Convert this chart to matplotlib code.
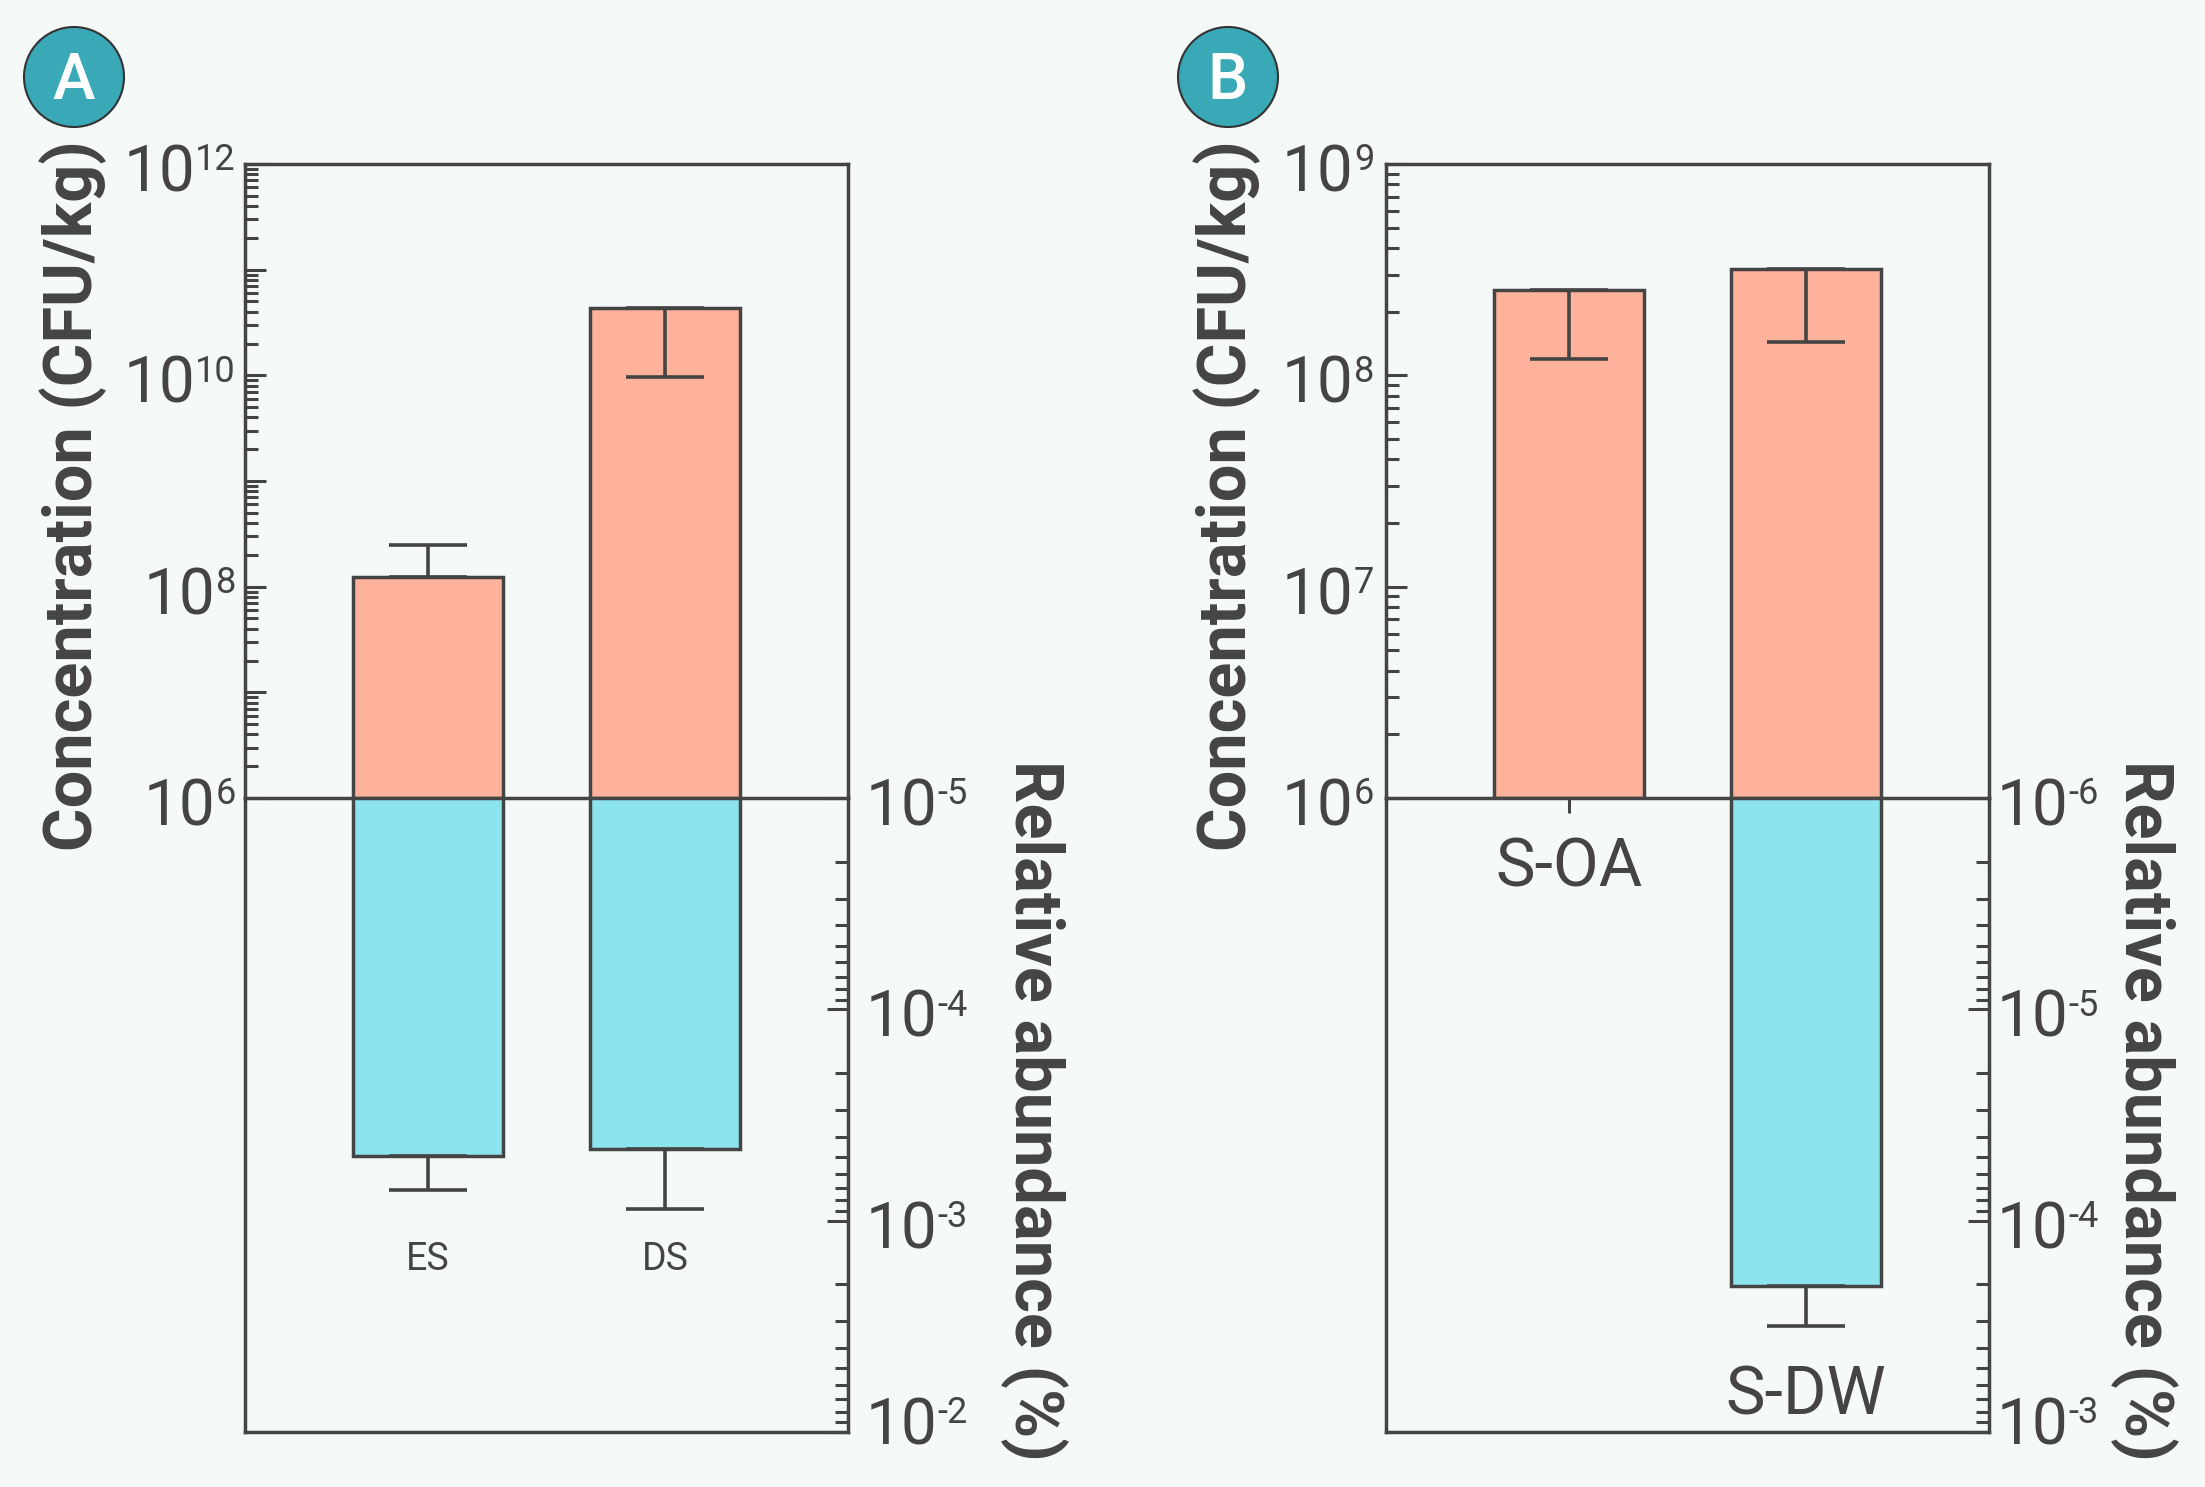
import matplotlib
matplotlib.use("Agg")
import matplotlib.pyplot as plt
import matplotlib.transforms as mtransforms
from matplotlib.patches import Ellipse
from matplotlib.ticker import LogLocator, NullFormatter
import numpy as np

# ---------------- data ----------------
cats_a = ["ES", "DS"]
conc_a = [1.24e8, 4.3e10]            # CFU/kg
conc_a_err_end = [2.48e8, 9.7e9]     # end point of the error bar
rel_a = [4.93e-4, 4.58e-4]           # relative abundance (%)
rel_a_err_end = [7.16e-4, 8.79e-4]

cats_b = ["S-OA", "S-DW"]
conc_b = [2.53e8, 3.2e8]
conc_b_err_end = [1.19e8, 1.44e8]
rel_b = [None, 2.03e-4]
rel_b_err_end = [None, 3.15e-4]

conc_ticks_a = [1e6, 1e8, 1e10, 1e12]
conc_tick_exps_a = ["6", "8", "10", "12"]
rel_ticks_a = [1e-5, 1e-4, 1e-3, 1e-2]
rel_tick_exps_a = ["-5", "-4", "-3", "-2"]
conc_ticks_b = [1e6, 1e7, 1e8, 1e9]
conc_tick_exps_b = ["6", "7", "8", "9"]
rel_ticks_b = [1e-6, 1e-5, 1e-4, 1e-3]
rel_tick_exps_b = ["-6", "-5", "-4", "-3"]

# ---------------- style ----------------
W, H = 2205, 1487
BG = "#f5f9f8"
EC = "#444444"
SALMON = "#ffb29b"
CYAN = "#8ce4ee"
TEAL = "#3aa9b7"
LW = 2.5
FONT = "Roboto"
plt.rcParams["font.family"] = [FONT, "DejaVu Sans"]

fig = plt.figure(figsize=(W / 100, H / 100), dpi=100, facecolor=BG)


def fx(px):
    return px / W


def fy(py):
    return 1 - py / H


def make_axes(left_px):
    top = fig.add_axes([fx(left_px), fy(798), 603 / W, 634 / H])
    bot = fig.add_axes([fx(left_px), fy(1432), 603 / W, 634 / H])
    for a in (top, bot):
        a.set_facecolor("none")
        a.set_xlim(-0.772, 1.772)
        for s in a.spines.values():
            s.set_color(EC)
            s.set_linewidth(LW)
    bot.spines["top"].set_visible(False)
    return top, bot


def yerr_of(val, end):
    if end >= val:
        return [[0], [end - val]]
    return [[val - end], [0]]


def style_log_axis(a, side):
    a.set_yscale("log")
    a.yaxis.set_major_locator(LogLocator(base=10, numticks=100))
    a.yaxis.set_minor_locator(LogLocator(base=10, subs=np.arange(2, 10), numticks=100))
    a.yaxis.set_minor_formatter(NullFormatter())
    left = side == "left"
    a.tick_params(axis="y", which="major", direction="in", length=15, width=2.2,
                  color=EC, left=left, right=not left, labelleft=False, labelright=False)
    a.tick_params(axis="y", which="minor", direction="in", length=9.4, width=2.2,
                  color=EC, left=left, right=not left, labelleft=False, labelright=False)


def tick_label(a, val, exp, side, pad_px, dy_px=5):
    trans = mtransforms.blended_transform_factory(a.transAxes, a.transData)
    top_pt = (24 + 2.6 - dy_px) * 0.72
    kw = dict(color=EC, fontweight="normal", textcoords="offset points", va="top",
              annotation_clip=False)
    if side == "left":
        e = a.annotate(exp, xy=(0, val), xycoords=trans, xytext=(-pad_px * 0.72, top_pt),
                       ha="right", fontsize=26, **kw)
        a.annotate("10", xy=(0, 1), xycoords=e, xytext=(0, 0), ha="right", fontsize=46, **kw)
    else:
        b = a.annotate("10", xy=(1, val), xycoords=trans, xytext=(pad_px * 0.72, top_pt),
                       ha="left", fontsize=46, **kw)
        a.annotate(exp, xy=(1, 1), xycoords=b, xytext=(0, 0), ha="left", fontsize=26, **kw)


def draw_panel(left_px, cats, conc, conc_end, rel, rel_end, conc_lim, rel_lim,
               cticks, cexps, rticks, rexps, lpad, rpad, label_y, label_fs):
    top, bot = make_axes(left_px)
    x = np.arange(len(cats))
    width = 0.633
    # concentration (upper half)
    style_log_axis(top, "left")
    top.set_ylim(*conc_lim)
    base = conc_lim[0]
    top.bar(x, [v - base for v in conc], bottom=base, width=width, color=SALMON,
            edgecolor=EC, linewidth=LW, zorder=2)
    for i in range(len(cats)):
        top.errorbar(x[i], conc[i], yerr=yerr_of(conc[i], conc_end[i]), fmt="none",
                     ecolor=EC, elinewidth=2.6, capsize=28, capthick=2.6, zorder=3)
    top.set_xticks(x)
    top.tick_params(axis="x", direction="out", length=10.8, width=2.2, color=EC,
                    labelbottom=False, top=False)
    # relative abundance (lower half, inverted)
    style_log_axis(bot, "right")
    bot.set_ylim(rel_lim[1], rel_lim[0])
    rbase = rel_lim[0]
    for i in range(len(cats)):
        if rel[i] is None:
            continue
        bot.bar(x[i], rel[i] - rbase, bottom=rbase, width=width, color=CYAN,
                edgecolor=EC, linewidth=LW, zorder=2)
        bot.errorbar(x[i], rel[i], yerr=yerr_of(rel[i], rel_end[i]), fmt="none",
                     ecolor=EC, elinewidth=2.6, capsize=28, capthick=2.6, zorder=3)
    bot.set_xticks([])
    # tick labels
    for v, e in zip(cticks, cexps):
        tick_label(top, v, e, "left", lpad)
    for j, (v, e) in enumerate(zip(rticks, rexps)):
        dy = -10 if j == len(rticks) - 1 else 5
        tick_label(bot, v, e, "right", rpad, dy_px=dy)
    # category labels
    for i, c in enumerate(cats):
        bot.text(x[i], label_y[i], c, ha="center", va="center_baseline",
                 fontsize=label_fs, color=EC, fontweight="normal", zorder=4)
    return top, bot


draw_panel(245, cats_a, conc_a, conc_a_err_end, rel_a, rel_a_err_end,
           (1e6, 1e12), (1e-5, 1e-2), conc_ticks_a, conc_tick_exps_a,
           rel_ticks_a, rel_tick_exps_a, lpad=9, rpad=18,
           label_y=[10 ** -2.833, 10 ** -2.833], label_fs=27)
draw_panel(1386, cats_b, conc_b, conc_b_err_end, rel_b, rel_b_err_end,
           (1e6, 1e9), (1e-6, 1e-3), conc_ticks_b, conc_tick_exps_b,
           rel_ticks_b, rel_tick_exps_b, lpad=12, rpad=8,
           label_y=[10 ** -5.70, 10 ** -3.20], label_fs=48)

# axis titles
for bx in (92, 1246):
    fig.text(fx(bx), fy(496), "Concentration (CFU/kg)", rotation=90, rotation_mode="anchor",
             ha="center", va="baseline", fontsize=48, fontweight="bold", color=EC)
for bx in (1015, 2125):
    fig.text(fx(bx), fy(1110), "Relative abundance (%)", rotation=270, rotation_mode="anchor",
             ha="center", va="baseline", fontsize=48, fontweight="bold", color=EC)

# panel badges
for cx, letter in ((74, "A"), (1228, "B")):
    fig.add_artist(Ellipse((fx(cx), fy(77)), width=100 / W, height=100 / H,
                           transform=fig.transFigure, facecolor=TEAL,
                           edgecolor="#333333", linewidth=1.5))
    fig.text(fx(cx), fy(99), letter, ha="center", va="baseline", fontsize=46,
             color="white", fontweight="medium")

fig.savefig("out.png", dpi=100, facecolor=BG)
